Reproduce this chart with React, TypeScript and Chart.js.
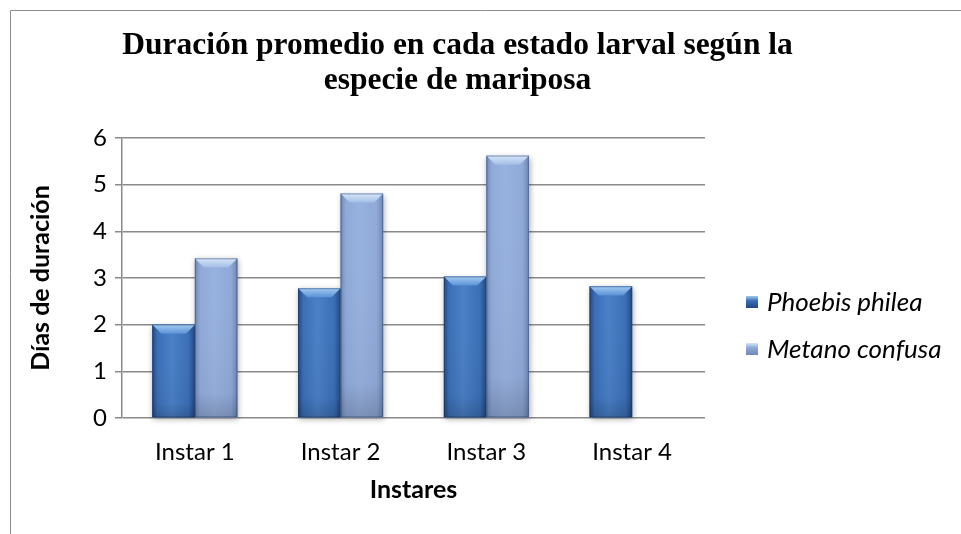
import React, { useEffect, useRef } from "react";
import { Chart, registerables } from "chart.js";

Chart.register(...registerables);

const categories = ["Instar 1", "Instar 2", "Instar 3", "Instar 4"];
const seriesNames = ["Phoebis philea", "Metano confusa"];
const phoebisValues = [2.0, 2.78, 3.03, 2.82];
const metanoValues: (number | null)[] = [3.42, 4.81, 5.62, null];
const yMin = 0;
const yMax = 6;
const yStep = 1;
const titleLines = ["Duración promedio en cada estado larval según la", "especie de mariposa"];
const yTitle = "Días de duración";
const xTitle = "Instares";

const palettes = [
  { edge: "#23487f", mid: "#3a6eb6", light: "#4a80c6", bevTop: "#a4cbf3", bevBot: "#5a91d6", legend: "#3a6eb6" },
  { edge: "#6f87b3", mid: "#8fa9d8", light: "#98b2df", bevTop: "#d6e6f9", bevBot: "#a2bde6", legend: "#8fa9d8" },
];

const SANS = "Lato, 'Open Sans', sans-serif";

const frame = {
  id: "frame",
  beforeDraw(chart: any) {
    const ctx = chart.ctx;
    ctx.save();
    ctx.strokeStyle = "#8c8c8c";
    ctx.lineWidth = 1;
    ctx.beginPath();
    ctx.moveTo(10.5, chart.height);
    ctx.lineTo(10.5, 10.5);
    ctx.lineTo(chart.width, 10.5);
    ctx.stroke();
    ctx.restore();
  },
};

const titlePlugin = {
  id: "titleLines",
  afterDraw(chart: any) {
    const ctx = chart.ctx;
    ctx.save();
    ctx.fillStyle = "#000";
    ctx.font = "bold 31.5px 'Liberation Serif', 'Times New Roman', serif";
    ctx.textAlign = "center";
    ctx.textBaseline = "alphabetic";
    titleLines.forEach((line, i) => {
      ctx.fillText(line, 457.5, 54 + i * 35);
    });
    ctx.restore();
  },
};

const barStyle = {
  id: "barStyle",
  afterDatasetsDraw(chart: any) {
    const ctx = chart.ctx;
    const bars: any[] = [];
    chart.data.datasets.forEach((ds: any, di: number) => {
      const meta = chart.getDatasetMeta(di);
      meta.data.forEach((el: any, i: number) => {
        if (ds.data[i] == null) return;
        const p = el.getProps(["x", "y", "base", "width"], true);
        bars.push({ di, l: p.x - p.width / 2, r: p.x + p.width / 2, t: Math.min(p.y, p.base), b: Math.max(p.y, p.base) });
      });
    });
    bars.forEach((bar) => {
      ctx.save();
      ctx.shadowColor = "rgba(0,0,0,0.35)";
      ctx.shadowBlur = 6;
      ctx.shadowOffsetX = 1;
      ctx.shadowOffsetY = 2;
      ctx.fillStyle = palettes[bar.di].mid;
      ctx.fillRect(bar.l, bar.t, bar.r - bar.l, bar.b - bar.t);
      ctx.restore();
    });
    bars.forEach((bar) => {
      const pal = palettes[bar.di];
      const w = bar.r - bar.l;
      const h = bar.b - bar.t;
      ctx.save();
      const g = ctx.createLinearGradient(bar.l, 0, bar.r, 0);
      g.addColorStop(0, pal.edge);
      g.addColorStop(0.12, pal.mid);
      g.addColorStop(0.45, pal.light);
      g.addColorStop(0.85, pal.mid);
      g.addColorStop(1, pal.edge);
      ctx.fillStyle = g;
      ctx.fillRect(bar.l, bar.t, w, h);
      const gv = ctx.createLinearGradient(0, bar.t, 0, bar.b);
      gv.addColorStop(0, "rgba(255,255,255,0)");
      gv.addColorStop(0.85, "rgba(0,0,0,0.04)");
      gv.addColorStop(1, "rgba(0,0,0,0.18)");
      ctx.fillStyle = gv;
      ctx.fillRect(bar.l, bar.t, w, h);
      const d = Math.min(9, h / 2);
      const gb = ctx.createLinearGradient(0, bar.t, 0, bar.t + d);
      gb.addColorStop(0, pal.bevTop);
      gb.addColorStop(1, pal.bevBot);
      ctx.fillStyle = gb;
      ctx.beginPath();
      ctx.moveTo(bar.l, bar.t);
      ctx.lineTo(bar.r, bar.t);
      ctx.lineTo(bar.r - d, bar.t + d);
      ctx.lineTo(bar.l + d, bar.t + d);
      ctx.closePath();
      ctx.fill();
      ctx.strokeStyle = "rgba(20,40,80,0.35)";
      ctx.lineWidth = 1;
      ctx.strokeRect(bar.l + 0.5, bar.t + 0.5, w - 1, h - 1);
      ctx.restore();
    });
  },
};

const legendPlugin = {
  id: "sideLegend",
  afterDraw(chart: any) {
    const ctx = chart.ctx;
    ctx.save();
    chart.data.datasets.forEach((ds: any, di: number) => {
      const cy = 302 + di * 47;
      const pal = palettes[di];
      const g = ctx.createLinearGradient(0, cy - 6, 0, cy + 6);
      g.addColorStop(0, pal.bevTop);
      g.addColorStop(0.4, pal.mid);
      g.addColorStop(1, pal.edge);
      ctx.fillStyle = g;
      ctx.fillRect(746, cy - 6, 12, 12);
      ctx.fillStyle = "#000";
      ctx.font = `italic 26px ${SANS}`;
      ctx.textAlign = "left";
      ctx.textBaseline = "middle";
      ctx.fillText(ds.label, 767, cy + 1);
    });
    ctx.restore();
  },
};

export default function App() {
  const ref = useRef<HTMLCanvasElement>(null);
  useEffect(() => {
    if (!ref.current) return;
    const chart = new Chart(ref.current, {
      type: "bar",
      data: {
        labels: categories,
        datasets: [
          { label: seriesNames[0], data: phoebisValues, backgroundColor: palettes[0].mid, borderWidth: 0 },
          { label: seriesNames[1], data: metanoValues, backgroundColor: palettes[1].mid, borderWidth: 0 },
        ],
      },
      options: {
        responsive: false,
        animation: false,
        devicePixelRatio: 1,
        layout: { padding: { top: 138, right: 256, left: 14, bottom: 0 } },
        datasets: { bar: { categoryPercentage: 0.583, barPercentage: 1 } },
        plugins: {
          legend: { display: false },
          title: { display: false },
          tooltip: { enabled: false },
        },
        scales: {
          x: {
            grid: { display: false, drawTicks: false },
            border: { display: false },
            ticks: { color: "#000", font: { family: SANS, size: 24 }, padding: 20 },
            title: { display: true, text: xTitle, color: "#000", font: { family: SANS, size: 25, weight: "bold" }, padding: { top: 4, bottom: 29 } },
            afterFit: (s: any) => { s.height = 116; },
          },
          y: {
            min: yMin,
            max: yMax,
            ticks: { stepSize: yStep, color: "#000", font: { family: SANS, size: 24 }, padding: 8 },
            grid: { color: "#8a8a8a", lineWidth: 1.5, tickLength: 7 },
            border: { display: true, color: "#8a8a8a", width: 1.5 },
            title: { display: true, text: yTitle, color: "#000", font: { family: SANS, size: 25, weight: "bold" }, padding: { top: 12, bottom: 4 } },
            afterFit: (s: any) => { s.width = 108; },
          },
        },
      },
      plugins: [frame, barStyle, titlePlugin, legendPlugin],
    });
    return () => chart.destroy();
  }, []);
  return (
    <div style={{ position: "absolute", left: 0, top: 0, width: 961, height: 534 }}>
      <canvas ref={ref} width={961} height={534} style={{ display: "block" }} />
    </div>
  );
}
